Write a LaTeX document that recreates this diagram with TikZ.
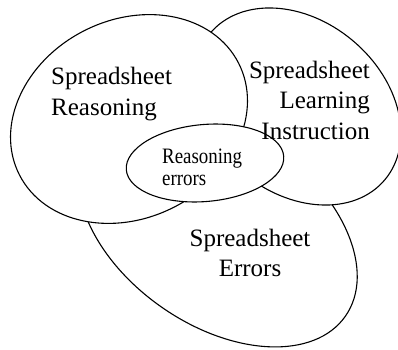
\documentclass[tikz,border=0pt]{standalone}
\usepackage{fontspec}
\setmainfont{Liberation Serif}
\begin{document}
\begin{tikzpicture}[x=1pt,y=1pt,
    area/.style={draw,line width=1.1pt,fill=white},
    lbl/.style={inner sep=0pt,font=\fontsize{25}{30.5}\selectfont}]
  \useasboundingbox (0,0) rectangle (398,349);
  % three overlapping areas, back to front
  \draw[area] (217.6,122.3) ellipse [x radius=156, y radius=98, rotate=-35];
  \draw[area] (297.5,242.5) ellipse [x radius=114, y radius=86, rotate=-40];
  \draw[area] (129,230) ellipse [x radius=123, y radius=99, rotate=27];
  \draw[area] (205,186) ellipse [x radius=79, y radius=38.5, rotate=5];
  \node[lbl,anchor=west,align=left] (reason) at (51,255) {Spreadsheet\\Reasoning};
  \node[lbl,anchor=east,align=right] (learn) at (370,249) {Spreadsheet\\Learning\\Instruction};
  \node[lbl,align=center] (errs) at (250,96) {Spreadsheet\\Errors};
  % narrow label inside the small area
  \node[inner sep=0pt,anchor=west,align=left,xscale=0.86,transform shape,
    font=\fontsize{22}{22}\selectfont] (rerr) at (162,182) {Reasoning\\errors};
\end{tikzpicture}
\end{document}
